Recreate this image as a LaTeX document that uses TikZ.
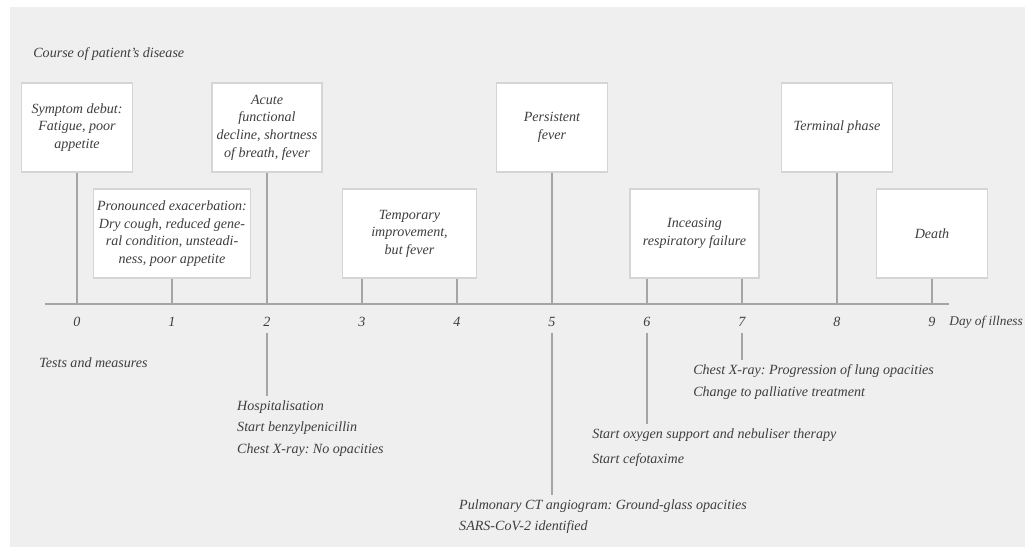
\documentclass[tikz,border=0pt]{standalone}
\usepackage{fontspec}
\setmainfont{Liberation Serif}
\frenchspacing
\definecolor{bggray}{RGB}{239, 239, 239}
\definecolor{boxline}{RGB}{214, 212, 212}
\definecolor{stemgray}{RGB}{165, 165, 165}
\definecolor{textgray}{RGB}{62, 62, 62}
\usetikzlibrary{positioning, calc}

\begin{document}
\begin{tikzpicture}[
  box/.style={draw=boxline, line width=0.7pt, fill=white, minimum height=1.78cm, align=center, inner sep=2pt, text=textgray, font=\fontsize{8}{10}\selectfont\itshape},
  stem/.style={draw=stemgray, line width=0.7pt},
  daylbl/.style={text=textgray, font=\fontsize{8}{10}\selectfont\itshape},
  note/.style={anchor=north west, align=left, inner sep=2.5pt, text=textgray, font=\fontsize{8}{12.2}\selectfont\itshape},
  heading/.style={anchor=west, inner sep=0pt, text=textgray, font=\fontsize{8}{10}\selectfont\itshape}
]
  % Canvas
  \useasboundingbox (-1.54,-4.86) rectangle (18.96,6.08);
  \fill[bggray] (-1.34,-4.86) rectangle (18.96,5.94);

  % Time axis
  \coordinate (axL) at (-0.64,0);
  \coordinate (axR) at (17.44,0);
  \draw[stemgray, line width=0.9pt] (axL) -- (axR);

  % Days
  \node[daylbl] (d0) at (0,-0.36) {0};
  \node[daylbl] (d1) at (1.9,-0.36) {1};
  \node[daylbl] (d2) at (3.8,-0.36) {2};
  \node[daylbl] (d3) at (5.7,-0.36) {3};
  \node[daylbl] (d4) at (7.6,-0.36) {4};
  \node[daylbl] (d5) at (9.5,-0.36) {5};
  \node[daylbl] (d6) at (11.4,-0.36) {6};
  \node[daylbl] (d7) at (13.3,-0.36) {7};
  \node[daylbl] (d8) at (15.2,-0.36) {8};
  \node[daylbl] (d9) at (17.1,-0.36) {9};
  \node[heading, font=\fontsize{7.6}{10}\selectfont\itshape] (dayname) at (17.44,-0.36) {Day of illness};

  % Course of disease
  \node[heading] (course) at (-0.88,5.0) {Course of patient's disease};

  \node[box, minimum width=2.22cm] (debut) at (0,3.53) {Symptom debut:\\ Fatigue, poor\\ appetite};
  \node[box, minimum width=3.12cm] (exac) at (1.9,1.41) {Pronounced exacerbation:\\ Dry cough, reduced gene-\\ ral condition, unsteadi-\\ ness, poor appetite};
  \node[box, minimum width=2.2cm] (acute) at (3.8,3.53) {Acute\\ functional\\ decline, shortness\\ of breath, fever};
  \node[box, minimum width=2.68cm] (temp) at (6.65,1.41) {Temporary\\ improvement,\\ but fever};
  \node[box, minimum width=2.22cm] (fever) at (9.5,3.53) {Persistent\\ fever};
  \node[box, minimum width=2.58cm] (resp) at (12.35,1.41) {Inceasing\\ respiratory failure};
  \node[box, minimum width=2.22cm] (term) at (15.2,3.53) {Terminal phase};
  \node[box, minimum width=2.22cm] (death) at (17.1,1.41) {Death};

  \draw[stem] (debut) -- (debut |- axL);
  \draw[stem] (exac) -- (exac |- axL);
  \draw[stem] (acute) -- (acute |- axL);
  \draw[stem] (temp.south -| d3) -- (d3 |- axL);
  \draw[stem] (temp.south -| d4) -- (d4 |- axL);
  \draw[stem] (fever) -- (fever |- axL);
  \draw[stem] (resp.south -| d6) -- (d6 |- axL);
  \draw[stem] (resp.south -| d7) -- (d7 |- axL);
  \draw[stem] (term) -- (term |- axL);
  \draw[stem] (death) -- (death |- axL);

  % Tests and measures
  \node[heading] (tests) at (-0.76,-1.18) {Tests and measures};

  \node[note] (hosp) at (3.11,-1.84) {Hospitalisation\\ Start benzylpenicillin\\ Chest X-ray: No opacities};
  \node[note] (ct) at (7.55,-3.81) {Pulmonary CT angiogram: Ground-glass opacities\\ SARS-CoV-2 identified};
  \node[note] (oxy) at (10.21,-2.40) {Start oxygen support and nebuliser therapy\\[2pt] Start cefotaxime};
  \node[note] (xray) at (12.23,-1.12) {Chest X-ray: Progression of lung opacities\\ Change to palliative treatment};

  \draw[stem] (d2.south) -- (d2 |- hosp.north);
  \draw[stem] (d5.south) -- (d5 |- ct.north);
  \draw[stem] (d6.south) -- (d6 |- oxy.north);
  \draw[stem] (d7.south) -- (d7 |- xray.north);
\end{tikzpicture}
\end{document}
